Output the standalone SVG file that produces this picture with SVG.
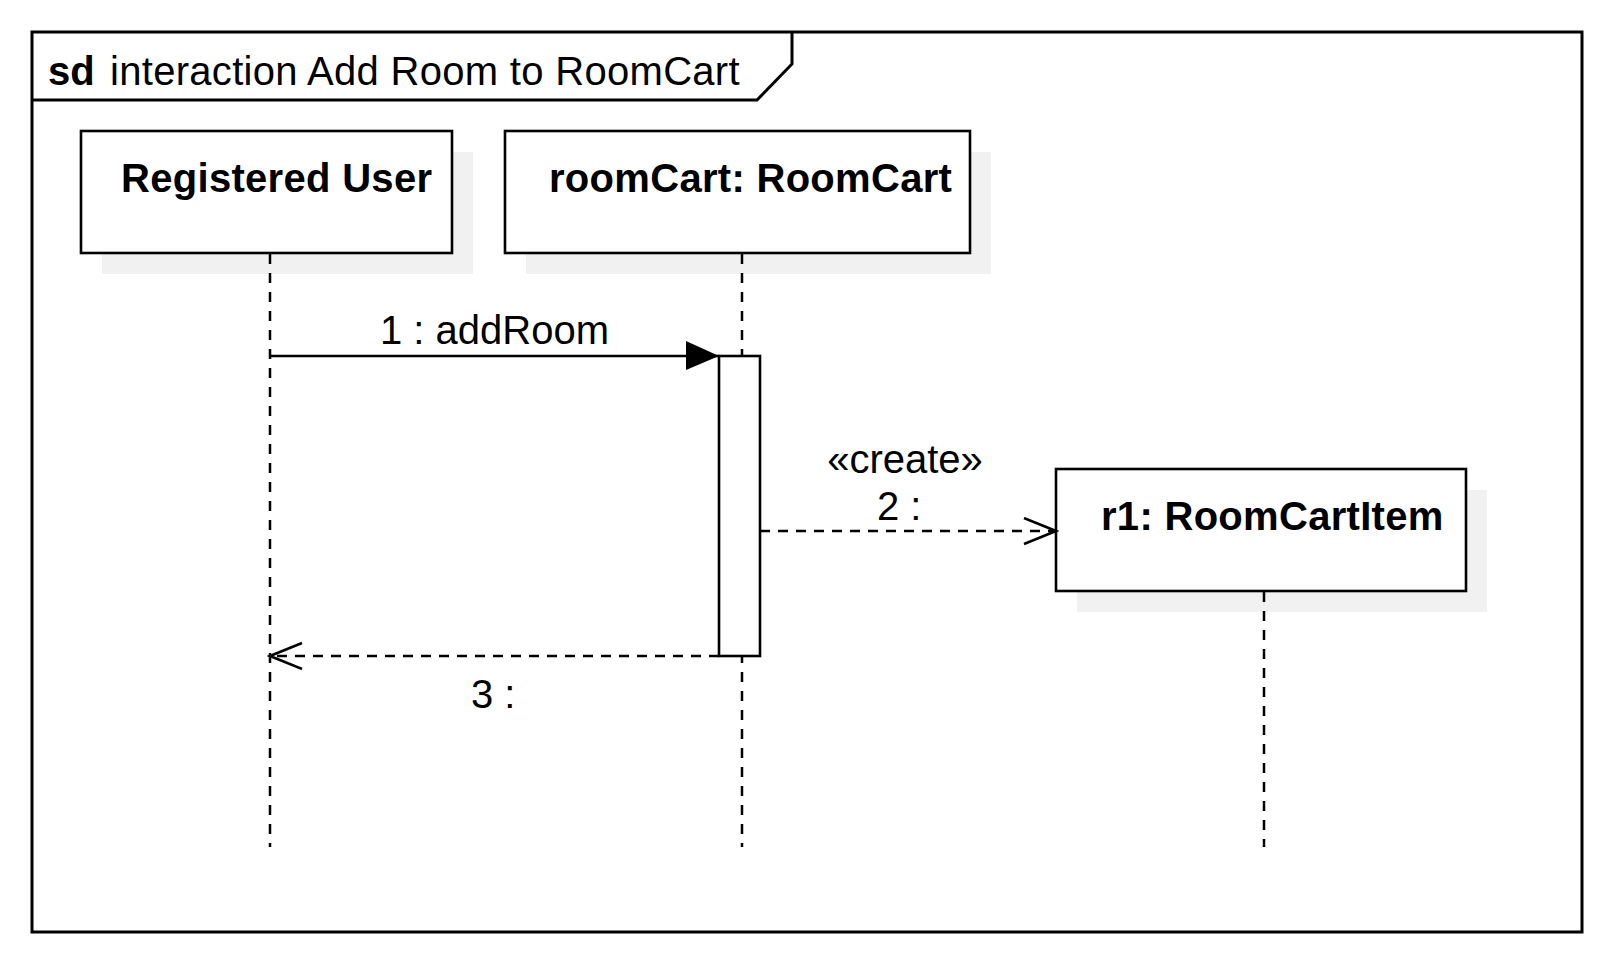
<svg xmlns="http://www.w3.org/2000/svg" width="1613" height="963" viewBox="0 0 1613 963">
<style>
.frame{fill:none;stroke:#000;stroke-width:3}
.box{fill:#fff;stroke:#000;stroke-width:2.6}
.shadow{fill:#f1f1f1;stroke:none}
.life{fill:none;stroke:#000;stroke-width:2.5;stroke-dasharray:10,9}
.msg{fill:none;stroke:#000;stroke-width:2.5}
.dash{stroke-dasharray:10,8}
.t{font-family:"Liberation Sans",Arial,sans-serif;font-size:40px;fill:#000}
.b{font-weight:bold;letter-spacing:0.3px}
</style>
<defs>
<marker id="filled" markerUnits="userSpaceOnUse" markerWidth="36" markerHeight="32" refX="33" refY="15" orient="auto">
<path d="M0,0 L33,15 L0,29 Z" fill="#000"/>
</marker>
<marker id="open" markerUnits="userSpaceOnUse" markerWidth="36" markerHeight="32" refX="33" refY="14" orient="auto">
<path d="M1,1 L33,14 L1,27" fill="none" stroke="#000" stroke-width="2.5"/>
</marker>
</defs>
<rect width="1613" height="963" fill="#fff"/>
<g id="frame">
<rect class="frame" x="32" y="32" width="1550" height="900"/>
<path class="frame" d="M32,100 L757,100 L792,64 L792,32"/>
<text class="t" x="48" y="85" font-weight="bold">sd</text>
<text class="t" x="110" y="85" letter-spacing="0.3">interaction Add Room to RoomCart</text>
</g>
<g id="registeredUser">
<rect class="shadow" x="102" y="152" width="371" height="122"/>
<rect class="box" x="81" y="131" width="371" height="122"/>
<text class="t b" x="121" y="192">Registered User</text>
</g>
<g id="roomCart">
<rect class="shadow" x="526" y="152" width="465" height="122"/>
<rect class="box" x="505" y="131" width="465" height="122"/>
<text class="t b" x="549" y="192">roomCart: RoomCart</text>
</g>
<g id="r1">
<rect class="shadow" x="1077" y="490" width="410" height="122"/>
<rect class="box" x="1056" y="469" width="410" height="122"/>
<text class="t b" x="1101" y="530">r1: RoomCartItem</text>
</g>
<g id="lifelines">
<line class="life" x1="270" y1="254" x2="270" y2="847"/>
<line class="life" x1="742" y1="254" x2="742" y2="847"/>
<line class="life" x1="1264" y1="592" x2="1264" y2="847"/>
</g>
<g id="activation">
<rect class="box" x="719" y="356" width="41" height="300"/>
</g>
<g id="connectors">
<line class="msg" x1="270" y1="356" x2="719" y2="356" marker-end="url(#filled)"/>
<text class="t" x="380" y="344">1 : addRoom</text>
<line class="msg dash" x1="760" y1="531" x2="1056" y2="531" marker-end="url(#open)"/>
<text class="t" x="905" y="473" text-anchor="middle">«create»</text>
<text class="t" x="877" y="520">2 :</text>
<line class="msg dash" x1="719" y1="656" x2="270" y2="656" marker-end="url(#open)"/>
<text class="t" x="471" y="708">3 :</text>
</g>
</svg>
